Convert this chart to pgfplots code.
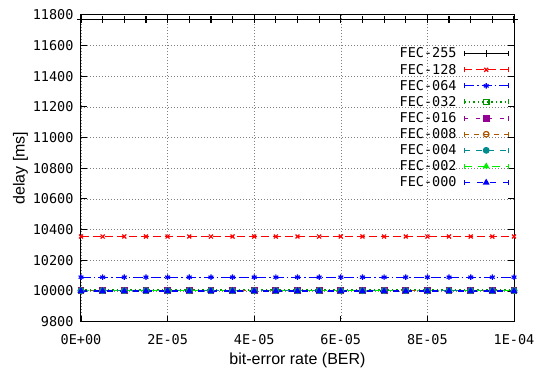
\documentclass[border=0pt]{standalone}
\usepackage{pgfplots}
\pgfplotsset{compat=1.18}
\usepackage{pgfplotstable}
\usepackage{fontspec}
\setmainfont{Liberation Sans}
\newfontfamily\monofont{DejaVu Sans Mono}

\definecolor{cred}{RGB}{255,0,0}
\definecolor{cblue}{RGB}{0,0,255}
\definecolor{cgreen}{RGB}{0,150,0}
\definecolor{cpurple}{RGB}{148,0,148}
\definecolor{cbrown}{RGB}{170,85,0}
\definecolor{cteal}{RGB}{0,140,140}
\definecolor{clime}{RGB}{0,240,0}

\pgfplotstableread{
x f255 f128 f064 f032 f016 f008 f004 f002 f000
0        11770 10355 10090 10006 10004 10003 10002 10001 10000
0.000005 11770 10355 10090 10006 10004 10003 10002 10001 10000
0.00001  11770 10355 10090 10006 10004 10003 10002 10001 10000
0.000015 11770 10355 10090 10006 10004 10003 10002 10001 10000
0.00002  11770 10355 10090 10006 10004 10003 10002 10001 10000
0.000025 11770 10355 10090 10006 10004 10003 10002 10001 10000
0.00003  11770 10355 10090 10006 10004 10003 10002 10001 10000
0.000035 11770 10355 10090 10006 10004 10003 10002 10001 10000
0.00004  11770 10355 10090 10006 10004 10003 10002 10001 10000
0.000045 11770 10355 10090 10006 10004 10003 10002 10001 10000
0.00005  11770 10355 10090 10006 10004 10003 10002 10001 10000
0.000055 11770 10355 10090 10006 10004 10003 10002 10001 10000
0.00006  11770 10355 10090 10006 10004 10003 10002 10001 10000
0.000065 11770 10355 10090 10006 10004 10003 10002 10001 10000
0.00007  11770 10355 10090 10006 10004 10003 10002 10001 10000
0.000075 11770 10355 10090 10006 10004 10003 10002 10001 10000
0.00008  11770 10355 10090 10006 10004 10003 10002 10001 10000
0.000085 11770 10355 10090 10006 10004 10003 10002 10001 10000
0.00009  11770 10355 10090 10006 10004 10003 10002 10001 10000
0.000095 11770 10355 10090 10006 10004 10003 10002 10001 10000
0.0001   11770 10355 10090 10006 10004 10003 10002 10001 10000
}\datatable

\begin{document}
\begin{tikzpicture}
\begin{axis}[
  scale only axis, width=433bp, height=307bp,
  xmin=0, xmax=0.0001, ymin=9800, ymax=11800,
  xtick={0,0.00002,0.00004,0.00006,0.00008,0.0001},
  xticklabels={0E+00,2E-05,4E-05,6E-05,8E-05,1E-04},
  scaled x ticks=false, scaled y ticks=false,
  ytick={9800,10000,...,11800},
  yticklabel style={/pgf/number format/1000 sep={}, /pgf/number format/assume math mode=true, xshift=-4bp},
  xticklabel style={yshift=-9bp},
  ticklabel style={font=\monofont\fontsize{13.5bp}{15bp}\selectfont},
  tick align=inside, xtick pos=both, ytick pos=both,
  major tick length=6bp, tick style={black, line width=0.8bp},
  grid=major, major grid style={gray, dash pattern=on 1bp off 2bp, line width=0.5bp},
  axis line style={line width=1bp},
  xlabel={bit-error rate (BER)}, ylabel={delay [ms]},
  label style={font=\fontsize{16bp}{18bp}\selectfont},
  xlabel style={yshift=-2bp},
  ylabel style={yshift=-2bp},
  every axis plot/.append style={line width=1.2bp, mark size=2.8bp},
  legend plot pos=right, legend cell align=right,
  legend style={at={(1,1)}, anchor=north east, xshift=-5bp, yshift=-33bp,
    draw=none, fill=none, inner sep=0pt, row sep=4.6bp,
    font=\monofont\fontsize{13.5bp}{15bp}\selectfont,
    nodes={inner sep=0pt}},
  legend image code/.code={
    \path (0bp,0bp);
    \draw[mark repeat=2,mark phase=2,#1] plot coordinates {(7bp,0bp) (29bp,0bp) (51bp,0bp)};
    \draw[#1,solid] (7bp,-2.5bp) -- (7bp,2.5bp) (51bp,-2.5bp) -- (51bp,2.5bp);
  },
]
\addplot[black, solid, mark=+, mark size=3.5bp] table[x=x,y=f255] {\datatable};
\addlegendentry{FEC-255}
\addplot[cred, dash pattern=on 8bp off 4bp, mark=x, mark options={solid}] table[x=x,y=f128] {\datatable};
\addlegendentry{FEC-128}
\addplot[cblue, dash pattern=on 10bp off 3bp on 1.5bp off 3bp, mark=asterisk, mark options={solid}] table[x=x,y=f064] {\datatable};
\addlegendentry{FEC-064}
\addplot[cgreen, dash pattern=on 1.5bp off 3bp, mark=square, mark options={solid}] table[x=x,y=f032] {\datatable};
\addlegendentry{FEC-032}
\addplot[cpurple, dash pattern=on 4bp off 8bp, mark=square*, mark options={solid}] table[x=x,y=f016] {\datatable};
\addlegendentry{FEC-016}
\addplot[cbrown, dash pattern=on 5bp off 5bp, mark=o, mark options={solid}] table[x=x,y=f008] {\datatable};
\addlegendentry{FEC-008}
\addplot[cteal, dash pattern=on 6bp off 6bp, mark=*, mark options={solid}] table[x=x,y=f004] {\datatable};
\addlegendentry{FEC-004}
\addplot[clime, dash pattern=on 8bp off 6bp, mark=triangle*, mark options={solid}] table[x=x,y=f002] {\datatable};
\addlegendentry{FEC-002}
\addplot[cblue, dash pattern=on 6bp off 7bp, mark=triangle*, mark options={solid}] table[x=x,y=f000] {\datatable};
\addlegendentry{FEC-000}
\end{axis}
\pgfresetboundingbox
\path ([xshift=-81bp,yshift=-51.3bp]current axis.south west) rectangle ([xshift=32bp,yshift=14.7bp]current axis.north east);
\end{tikzpicture}
\end{document}
